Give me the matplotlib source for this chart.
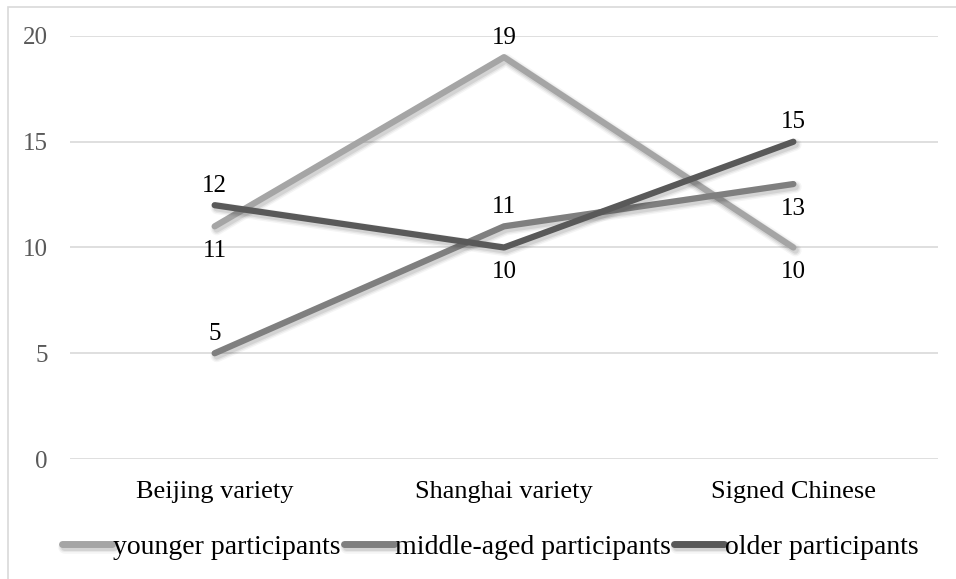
import matplotlib
matplotlib.use("Agg")
import matplotlib.pyplot as plt
import matplotlib.patheffects as pe
from matplotlib.patches import Rectangle

plt.rcParams["font.family"] = ["Liberation Serif", "DejaVu Serif"]

categories = ["Beijing variety", "Shanghai variety", "Signed Chinese"]
younger = [11, 19, 10]
middle = [5, 11, 13]
older = [12, 10, 15]
series_names = ["younger participants", "middle-aged participants", "older participants"]
series_colors = ["#a5a5a5", "#7f7f7f", "#595959"]
# label placement per point: True = above the point
label_above = [
    [False, True, False],
    [True, True, False],
    [True, False, True],
]

fig = plt.figure(figsize=(9.56, 5.79), dpi=100)
fig.patches.append(Rectangle((8 / 956, -0.1), 1.2, 1 - 7 / 579 + 0.1,
                             transform=fig.transFigure, fill=False,
                             edgecolor="#d9d9d9", linewidth=1.2))
ax = fig.add_axes([70 / 956, 1 - 459 / 579, 868 / 956, 423 / 579])

x = list(range(len(categories)))
# soft drop shadow under each line
shadow = [pe.SimpleLineShadow(offset=(1.5, -2), shadow_color="black", alpha=0.04, linewidth=9),
          pe.SimpleLineShadow(offset=(1.5, -2), shadow_color="black", alpha=0.06, linewidth=7),
          pe.SimpleLineShadow(offset=(1.5, -2), shadow_color="black", alpha=0.08, linewidth=5),
          pe.Normal()]
for vals, name, color, above in zip([younger, middle, older], series_names,
                                    series_colors, label_above):
    ax.plot(x, vals, color=color, linewidth=4.5, solid_capstyle="round",
            solid_joinstyle="round", label=name, path_effects=shadow)
    for xi, v, up in zip(x, vals, above):
        ax.annotate(f"{v}", (xi, v), xytext=(0, 14 if up else -18),
                    textcoords="offset points", ha="center", va="center",
                    fontsize=18, color="black")

ax.set_xlim(-0.5, len(categories) - 0.5)
ax.set_ylim(0, 20)
ax.set_yticks([0, 5, 10, 15, 20])
ax.set_xticks(x)
ax.set_xticklabels(categories, fontsize=19)
ax.tick_params(axis="y", labelsize=18, labelcolor="#595959", length=0, pad=16)
ax.tick_params(axis="x", length=0, pad=16)
ax.grid(axis="y", color="#d9d9d9", linewidth=1.2)
ax.set_axisbelow(True)
for s in ax.spines.values():
    s.set_visible(False)

leg = fig.legend(loc="center", bbox_to_anchor=(0.513, 1 - 547 / 579), ncol=3,
                 frameon=False, fontsize=20, handlelength=1.8, handletextpad=0.05,
                 columnspacing=0.1)
for h in leg.get_lines():
    h.set_linewidth(5)
    h.set_solid_capstyle("round")

fig.savefig("out.png", dpi=100)
